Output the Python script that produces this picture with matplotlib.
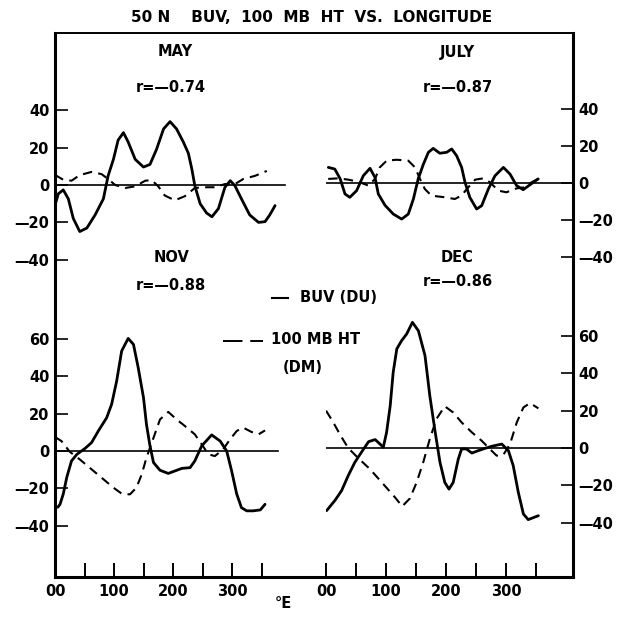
import matplotlib
matplotlib.use("Agg")
import matplotlib.pyplot as plt
from matplotlib.lines import Line2D

plt.rcParams['font.family'] = ['DejaVu Sans']
plt.rcParams['font.weight'] = 'bold'

# ---- data (longitude in deg E, values) ----
# MAY
may_buv_lon = [0, 5.6, 14, 22.6, 31, 42, 54, 68, 82, 90, 99, 107, 116, 124, 136, 150, 161, 172, 184, 195, 206, 217.5, 226, 232, 237, 246, 257, 266, 277, 288, 297, 305, 316, 330, 345, 356, 364, 373]
may_buv = [-10.9, -4.7, -2.6, -7.4, -17.9, -24.9, -23, -16, -7.4, 4.9, 13.7, 24, 28, 23, 13.7, 9.6, 11, 19, 30, 33.9, 30, 23, 17, 8.4, -0.4, -10, -15, -17, -12.6, -1.2, 2.3, -0.4, -7.4, -16, -20, -19.6, -16, -11]
may_ht_lon = [0, 14, 28, 42, 62, 79, 90, 102, 119, 136, 153, 164, 175, 186, 203, 220, 237, 254, 271, 288, 305, 319, 339, 359]
may_ht = [5.4, 2.8, 2.3, 5.3, 7, 5.8, 3.2, 0, -1.6, -0.7, 2.3, 2.6, -0.7, -5.6, -8.2, -6, -1.6, -1.2, -1.2, 0.5, 0.5, 3.2, 4.9, 7.5]

# JULY
jul_buv_lon = [2.2, 13, 22, 30, 38, 49.4, 60.5, 71.7, 80, 85.5, 96.7, 110.5, 124.5, 135.5, 144, 152, 160.5, 169, 177, 188, 199.5, 207.8, 216, 224.4, 230, 238, 249.4, 257.8, 269, 280, 294, 305, 316, 327, 338, 352]
jul_buv = [8.4, 7.5, 2.2, -5.9, -7.7, -4.1, 3.9, 7.9, 3, -5.9, -12, -16.7, -19.4, -16.7, -8.6, 2.2, 10, 16.5, 18.6, 16, 16.5, 18.3, 14.7, 8.4, 0.4, -7.7, -14, -12.2, -3.2, 3.9, 8.4, 4.8, -1.4, -3.6, -1, 2.2]
jul_ht_lon = [2, 19, 35.5, 52, 69, 80, 88, 99.4, 116, 135.5, 146.7, 155, 163, 174, 197, 213, 224, 235.5, 247, 260.5, 271.7, 285.5, 299, 316, 330, 341, 352]
jul_ht = [2.2, 2.5, 1.8, 0.7, -1.4, 2.2, 8.4, 12, 12.5, 12, 8.4, 2.2, -3.2, -6.8, -7.7, -8.6, -6.8, -2.3, 1.8, 2.5, 0.4, -4.1, -5, -2.9, -2.3, 0.4, 2.2]

# NOV
nov_buv_lon = [0, 5, 8.5, 14, 20, 28, 37, 51, 62, 73.4, 87.6, 96, 104.5, 113, 124, 133, 141, 150, 155, 161, 167, 178, 192, 203, 215, 229, 237, 248.6, 265.5, 280, 291, 299.4, 308, 316, 325, 336, 348, 356]
nov_buv = [-30, -30, -28.5, -23, -14, -5.3, -1.8, 1.4, 4.5, 10.7, 17.8, 25, 37.4, 53.5, 60.2, 57, 44.6, 28.5, 14.3, 2.7, -6.2, -10.3, -12, -10.7, -9.3, -8.9, -5.3, 2.7, 8.6, 5.3, 0, -10.7, -23, -30.3, -32, -32, -31.5, -28.5]
nov_ht_lon = [0, 11, 25, 42, 62, 79, 99, 113, 127, 138, 147, 155, 167, 178, 192, 206, 220, 237, 248.6, 260, 271, 285, 296.6, 308, 319, 333, 345, 356]
nov_ht = [7.5, 5.3, -0.4, -4.5, -9.8, -14.3, -19.6, -22.8, -23.2, -19.6, -12.5, -3.6, 7.1, 16.9, 20.9, 16.9, 13.4, 8.9, 3.6, -1.8, -2.7, 0.9, 6.2, 10.7, 12.5, 10.2, 8.9, 11]

# DEC
dec_buv_lon = [1, 15, 26, 37, 48, 59, 71, 82, 90, 95.5, 101, 107, 112, 118, 126, 134.5, 144, 154, 165, 173, 182, 190, 198, 205, 212, 220.5, 226, 234, 243, 254, 265, 276, 293, 304, 312, 320.5, 329, 337, 354]
dec_buv = [-33.5, -28, -22.8, -14.8, -7.7, -2.3, 3.4, 4.5, 2.1, 0.4, 8.4, 22.6, 40.5, 53, 57.4, 61, 67.2, 62.7, 49.4, 28, 8.4, -7.7, -18.4, -22, -18.4, -5.9, -0.5, -0.5, -2.7, -1.4, -0.2, 0.9, 2.1, -1.4, -9.4, -23.7, -35.3, -38.3, -36.2]
dec_ht_lon = [0, 10.5, 24.4, 37, 54, 73, 95.5, 115, 127, 140, 151, 162, 173, 184, 198, 212, 226, 243, 259.4, 273, 284.4, 295.5, 306.7, 318, 329, 340, 354]
dec_ht = [20, 14.6, 6.6, 0, -5.5, -11.2, -19.3, -26.4, -31.2, -26.9, -18.4, -7.7, 4.8, 15.5, 22.3, 19, 13.7, 8.4, 3.9, -0.5, -4.1, -3.7, 2.1, 13.7, 21.7, 24, 21.2]

upper_ticks = [40, 20, 0, -20, -40]
upper_labels = ['40', '20', '0', '\u201420', '\u201440']
lower_ticks = [60, 40, 20, 0, -20, -40]
lower_labels = ['60', '40', '20', '0', '\u201420', '\u201440']
lon_major = [0, 100, 200, 300]
lon_labels = ['00', '100', '200', '300']
lon_minor = [50, 150, 250, 350]

months = ['MAY', 'JULY', 'NOV', 'DEC']
r_values = ['r=\u20140.74', 'r=\u20140.87', 'r=\u20140.88', 'r=\u20140.86']

W, H = 619, 621
fig = plt.figure(figsize=(W / 100, H / 100), dpi=100)


def box(l, t, r, b):
    return [l / W, 1 - b / H, (r - l) / W, (b - t) / H]


# outer frame
frame = fig.add_axes(box(55, 33, 573, 577))
frame.set_xticks([])
frame.set_yticks([])
frame.patch.set_visible(False)
for s in ['left', 'right', 'bottom']:
    frame.spines[s].set_linewidth(2.2)
frame.spines['top'].set_linewidth(1.4)


def panel(l, t, r, b, x0px, xs, y0px, ys):
    ax = fig.add_axes(box(l, t, r, b))
    ax.patch.set_visible(False)
    for s in ax.spines.values():
        s.set_visible(False)
    ax.set_xlim((l - x0px) / xs, (r - x0px) / xs)
    ax.set_ylim((y0px - b) / ys, (y0px - t) / ys)
    ax.set_xticks([])
    ax.set_yticks([])
    return ax


ax_may = panel(55, 33, 290, 300, 55, 0.59, 185, 1.87)
ax_jul = panel(326, 33, 573, 300, 327, 0.60, 183, 1.86)
ax_nov = panel(55, 300, 290, 577, 55, 0.59, 451, 1.87)
ax_dec = panel(326, 300, 573, 577, 326, 0.60, 448, 1.87)

solid = dict(color='black', lw=2.0, solid_joinstyle='round', solid_capstyle='round')
dashed = dict(color='black', lw=1.5, dashes=(4.5, 3))

ax_may.plot(may_buv_lon, may_buv, **solid)
ax_may.plot(may_ht_lon, may_ht, **dashed)
ax_jul.plot(jul_buv_lon, jul_buv, **solid)
ax_jul.plot(jul_ht_lon, jul_ht, **dashed)
ax_nov.plot(nov_buv_lon, nov_buv, **solid)
ax_nov.plot(nov_ht_lon, nov_ht, **dashed)
ax_dec.plot(dec_buv_lon, dec_buv, **solid)
ax_dec.plot(dec_ht_lon, dec_ht, **dashed)

ax_may.axhline(0, xmin=0, xmax=0.98, color='black', lw=1.2)
ax_jul.axhline(0, xmin=0, xmax=1, color='black', lw=1.2)
ax_nov.axhline(0, xmin=0, xmax=0.95, color='black', lw=1.2)
ax_dec.axhline(0, xmin=0, xmax=1, color='black', lw=1.2)

tick_font = dict(labelsize=10.5)
for ax, ticks, labels in [(ax_may, upper_ticks, upper_labels), (ax_nov, lower_ticks, lower_labels)]:
    ax.set_yticks(ticks, labels)
    ax.tick_params(axis='y', direction='in', length=9, width=1.2, pad=4, **tick_font)
for ax, ticks, labels in [(ax_jul, upper_ticks, upper_labels), (ax_dec, lower_ticks, lower_labels)]:
    ax.yaxis.tick_right()
    ax.set_yticks(ticks, labels)
    ax.tick_params(axis='y', direction='in', length=9, width=1.2, pad=4, **tick_font)
for ax in [ax_nov, ax_dec]:
    ax.set_xticks(lon_major, lon_labels)
    ax.set_xticks(lon_minor, minor=True)
    ax.tick_params(axis='x', which='both', direction='in', length=10, width=1.4, pad=5, **tick_font)

# panel titles
title_pos = [(175, 52, 171, 88), (457, 52, 458, 88), (172, 257, 171, 285), (457, 257, 458, 281)]
for (mx, my, rx, ry), m, r in zip(title_pos, months, r_values):
    fig.text(mx / W, 1 - my / H, m, ha='center', va='center', fontsize=10.5)
    fig.text(rx / W, 1 - ry / H, r, ha='center', va='center', fontsize=10.5)

fig.text(312 / W, 1 - 17 / H, '50 N    BUV,  100  MB  HT  VS.  LONGITUDE',
         ha='center', va='center', fontsize=11)
fig.text(283 / W, 1 - 603 / H, '\u00b0E', ha='center', va='center', fontsize=10.5)

# legend
fig.add_artist(Line2D([272 / W, 288 / W], [1 - 298 / H, 1 - 298 / H], color='black', lw=1.5))
fig.text(300 / W, 1 - 297 / H, 'BUV (DU)', ha='left', va='center', fontsize=10.5)
fig.add_artist(Line2D([223 / W, 263 / W], [1 - 341 / H, 1 - 341 / H], color='black', lw=1.4, dashes=(10, 4)))
fig.text(271 / W, 1 - 340 / H, '100 MB HT', ha='left', va='center', fontsize=10.5)
fig.text(283 / W, 1 - 367 / H, '(DM)', ha='left', va='center', fontsize=10.5)

fig.savefig('out.png', dpi=100)
